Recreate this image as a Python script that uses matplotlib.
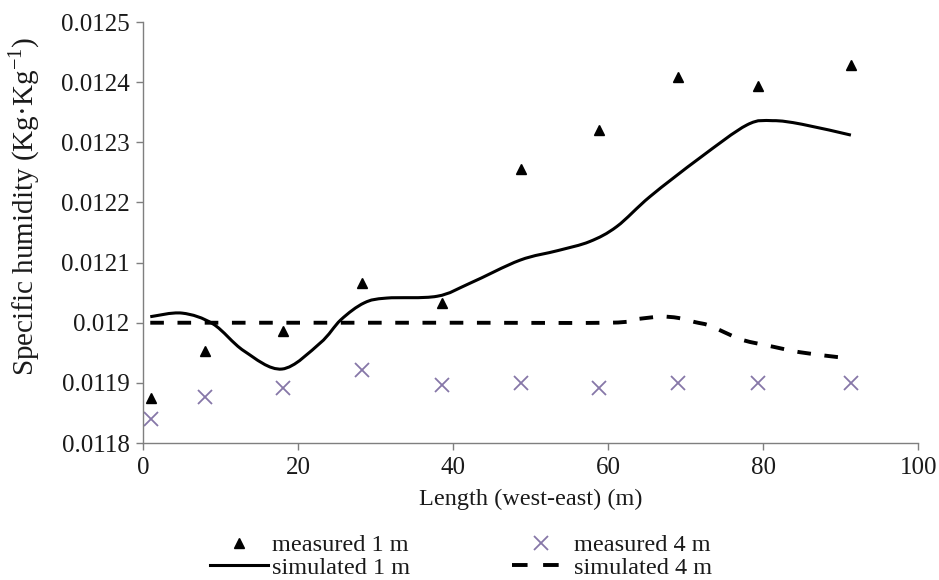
import matplotlib.pyplot as plt
from matplotlib.lines import Line2D
from matplotlib.path import Path
from matplotlib.patches import PathPatch

plt.rcParams['font.family'] = ['Liberation Serif', 'DejaVu Serif']

# measurement stations along the street (m)
station_x = [1, 8, 18, 28.2, 38.5, 48.7, 58.8, 69, 79.3, 91.3]
measured_1m = [0.011875, 0.011953, 0.011986, 0.012066, 0.012033,
               0.012256, 0.012321, 0.012409, 0.012394, 0.012429]
measured_4m = [0.01184, 0.011877, 0.011892, 0.011921, 0.011897,
               0.0119, 0.011892, 0.0119, 0.0119, 0.0119]

# model output, 1 m height
sim1_x = [0.9, 5, 9, 13, 17.9, 22.8, 25.5, 28.5, 31.4, 37.9, 42.2, 48.6,
          53.5, 57.6, 61.1, 65.4, 71.8, 77.9, 81.2, 85, 91.3]
sim1_y = [0.01201, 0.012016, 0.011998, 0.011953, 0.011923, 0.011966,
          0.012005, 0.012033, 0.012041, 0.012044, 0.012066, 0.012104,
          0.01212, 0.012135, 0.01216, 0.01221, 0.012274, 0.012329,
          0.012336, 0.01233, 0.012312]

# model output, 4 m height
sim4_x = [0.9, 20, 40, 60, 63, 66.7, 69, 71.2, 72.9, 75, 77.4, 81.3,
          84.7, 89.5, 91.3]
sim4_y = [0.012, 0.012, 0.012, 0.012, 0.012005, 0.01201, 0.012008,
          0.012001, 0.011996, 0.011984, 0.011971, 0.01196, 0.011951,
          0.011943, 0.011941]

spine_col = '#7f7f7f'
cross_col = '#8677a8'
text_col = '#1a1a1a'


def smooth_path(xs, ys):
    # cubic Bezier segments through every point (Catmull-Rom tangents)
    pts = list(zip(xs, ys))
    verts = [pts[0]]
    codes = [Path.MOVETO]
    n = len(pts)
    for i in range(n - 1):
        p0 = pts[max(i - 1, 0)]
        p1 = pts[i]
        p2 = pts[i + 1]
        p3 = pts[min(i + 2, n - 1)]
        c1 = (p1[0] + (p2[0] - p0[0]) / 6, p1[1] + (p2[1] - p0[1]) / 6)
        c2 = (p2[0] - (p3[0] - p1[0]) / 6, p2[1] - (p3[1] - p1[1]) / 6)
        verts += [c1, c2, p2]
        codes += [Path.CURVE4] * 3
    return Path(verts, codes)


fig = plt.figure(figsize=(9.39, 5.80), dpi=100)
ax = fig.add_axes([0.1526, 0.2362, 0.8254, 0.7258])

ax.add_patch(PathPatch(smooth_path(sim1_x, sim1_y), fill=False,
                       edgecolor='black', lw=2.2, capstyle='butt'))
ax.add_patch(PathPatch(smooth_path(sim4_x, sim4_y), fill=False,
                       edgecolor='black', lw=2.8, ls=(0, (3.5, 3.5)),
                       capstyle='butt'))
ax.plot(station_x, measured_1m, ls='none', marker='^', ms=7,
        color='black')
ax.plot(station_x, measured_4m, ls='none', marker='x', ms=10, mew=1.3,
        color=cross_col)

ax.set_xlim(0, 100)
ax.set_ylim(0.0118, 0.0125)
ax.set_xticks([0, 20, 40, 60, 80, 100])
ax.set_yticks([0.0118, 0.0119, 0.012, 0.0121, 0.0122, 0.0123, 0.0124, 0.0125])
ax.set_yticklabels(['0.0118', '0.0119', '0.012', '0.0121', '0.0122',
                    '0.0123', '0.0124', '0.0125'])

for s in ['top', 'right']:
    ax.spines[s].set_visible(False)
for s in ['left', 'bottom']:
    ax.spines[s].set_color(spine_col)
    ax.spines[s].set_linewidth(1.0)
ax.tick_params(direction='out', length=5, width=1.0, color=spine_col,
               labelsize=18, labelcolor=text_col, pad=5)

ax.set_xlabel('Length (west-east) (m)', fontsize=17.5, color=text_col,
              labelpad=7)
ax.set_ylabel('Specific humidity (Kg\u00b7Kg$^{\\mathregular{-1}}$)',
              fontsize=21, color=text_col)
ax.yaxis.set_label_coords(-0.131, 0.563)

handles = [
    Line2D([], [], ls='none', marker='^', ms=7, color='black'),
    Line2D([], [], color='black', lw=2.2),
    Line2D([], [], ls='none', marker='x', ms=10, mew=1.3, color=cross_col),
    Line2D([], [], color='black', lw=2.8, ls=(0, (4, 4))),
]
labels = ['measured 1 m', 'simulated 1 m', 'measured 4 m', 'simulated 4 m']
fig.legend(handles, labels, ncol=2, loc='upper left',
           bbox_to_anchor=(210 / 939, 1 - 534 / 580), frameon=False,
           fontsize=17.5, handlelength=2.4, handletextpad=0.15,
           columnspacing=4.2, labelspacing=0.02, borderpad=0,
           borderaxespad=0, labelcolor=text_col)

fig.savefig('out.png', dpi=100)
